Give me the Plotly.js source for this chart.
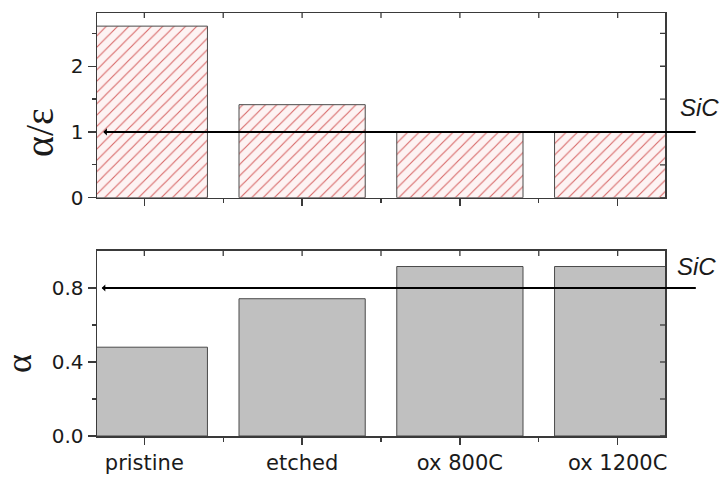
<!DOCTYPE html>
<html>
<head>
<meta charset="utf-8">
<script src="https://cdn.plot.ly/plotly-3.0.1.min.js"></script>
<style>html,body{margin:0;padding:0;background:#fff;}#chart{width:724px;height:477px;}</style>
</head>
<body>
<div id="chart"></div>
<script>
// ---- data ----
var categories = ["pristine", "etched", "ox 800C", "ox 1200C"];
var alphaOverEps = [2.61, 1.415, 1.0, 1.0];
var alpha = [0.48, 0.742, 0.916, 0.916];
var sicRef = [1.0, 0.8];          // [alpha/eps, alpha] of SiC
var sicLabel = "SiC";
var topTicks = [0, 1, 2];
var topMinor = [0.5, 1.5, 2.5];
var bottomTicks = [0.0, 0.4, 0.8];
var bottomMinor = [0.2, 0.6];

var idx = categories.map(function (c, i) { return i; });
var xr = [-0.3, 3.3];
var fontTick = "DejaVu Sans, Liberation Sans, Arial, sans-serif";
var axColor = "#3a3a3a";
var topDom = [0.5634, 1], botDom = [0, 0.4374];
var topRange = [0, 2.81];
var botRange = [0, 1.0];

var traces = [
  {
    type: "bar", x: idx, y: alphaOverEps, xaxis: "x2", yaxis: "y2", width: 0.8,
    marker: {
      color: "#ffffff",
      line: {color: "#4a4a4a", width: 1},
      pattern: {shape: "/", fgcolor: "#d86868", bgcolor: "#fdf3f3", size: 8, solidity: 0.14, fillmode: "replace"}
    },
    hoverinfo: "skip", showlegend: false
  },
  {
    type: "bar", x: idx, y: alpha, xaxis: "x", yaxis: "y", width: 0.8,
    marker: {color: "#c0c0c0", line: {color: "#4a4a4a", width: 1}},
    hoverinfo: "skip", showlegend: false
  }
];

function mainX(anchor, labels) {
  return {
    type: "linear", anchor: anchor, range: xr, domain: [0, 1],
    tickmode: "array", tickvals: idx, ticktext: categories,
    showticklabels: labels,
    ticks: "outside", ticklen: 7, tickwidth: 1.3, tickcolor: axColor,
    minor: {tickmode: "linear", tick0: 0.5, dtick: 1, ticks: "outside", ticklen: 4, tickwidth: 1.3, tickcolor: axColor},
    showline: true, linecolor: axColor, linewidth: 1.5, mirror: true,
    showgrid: false, zeroline: false, fixedrange: true,
    tickfont: {family: fontTick, size: 21, color: "#1a1a1a"}
  };
}

// inside ticks on the top and right frame edges, built from the tick arrays
var shapes = [];
var xFrameTicks = idx.concat(idx.slice(1).map(function (i) { return i - 0.5; }));
[["x", "y"], ["x2", "y2"]].forEach(function (p) {
  xFrameTicks.forEach(function (v) {
    shapes.push({type: "line", xref: p[0], yref: p[1] + " domain", ysizemode: "pixel", yanchor: 1,
                 x0: v, x1: v, y0: 0, y1: -5, line: {color: axColor, width: 1.3}});
  });
});
topTicks.concat(topMinor).forEach(function (v) {
  shapes.push({type: "line", xref: "x2 domain", yref: "y2", xsizemode: "pixel", xanchor: 1,
               x0: 0, x1: -5, y0: v, y1: v, line: {color: axColor, width: 1.3}});
});
bottomTicks.concat(bottomMinor).forEach(function (v) {
  shapes.push({type: "line", xref: "x domain", yref: "y", xsizemode: "pixel", xanchor: 1,
               x0: 0, x1: -5, y0: v, y1: v, line: {color: axColor, width: 1.3}});
});

var layout = {
  width: 724, height: 477,
  margin: {l: 97, r: 59, t: 13, b: 41, pad: 0},
  paper_bgcolor: "#ffffff", plot_bgcolor: "#ffffff",
  showlegend: false,
  barmode: "group",
  xaxis: mainX("y", true),
  xaxis2: mainX("y2", false),
  yaxis: {
    type: "linear", anchor: "x", domain: botDom, range: botRange,
    tickmode: "array", tickvals: bottomTicks, ticktext: bottomTicks.map(function (v) { return v.toFixed(1); }),
    ticks: "outside", ticklen: 8, tickwidth: 1.3, tickcolor: axColor,
    minor: {tickmode: "array", tickvals: bottomMinor, ticks: "outside", ticklen: 4, tickwidth: 1.3, tickcolor: axColor},
    showline: true, linecolor: axColor, linewidth: 1.5, mirror: true,
    showgrid: false, zeroline: false, fixedrange: true,
    tickfont: {family: fontTick, size: 20, color: "#1a1a1a"}
  },
  yaxis2: {
    type: "linear", anchor: "x2", domain: topDom, range: topRange,
    tickmode: "array", tickvals: topTicks, ticktext: topTicks.map(String),
    ticks: "outside", ticklen: 8, tickwidth: 1.3, tickcolor: axColor,
    minor: {tickmode: "array", tickvals: topMinor, ticks: "outside", ticklen: 4, tickwidth: 1.3, tickcolor: axColor},
    showline: true, linecolor: axColor, linewidth: 1.5, mirror: true,
    showgrid: false, zeroline: false, fixedrange: true,
    tickfont: {family: fontTick, size: 20, color: "#1a1a1a"}
  },
  shapes: shapes,
  annotations: [
    // y-axis titles
    {xref: "paper", yref: "paper", x: -0.1021, y: 0.7163, text: "α/ε", showarrow: false, textangle: -90,
     font: {family: "Liberation Serif, DejaVu Serif, serif", size: 40, color: "#1a1a1a"}, xanchor: "center", yanchor: "middle"},
    {xref: "paper", yref: "paper", x: -0.1373, y: 0.1702, text: "α", showarrow: false, textangle: -90,
     font: {family: "Liberation Serif, DejaVu Serif, serif", size: 36, color: "#1a1a1a"}, xanchor: "center", yanchor: "middle"},
    // SiC reference lines
    {xref: "paper", yref: "y2", x: 0.011, y: sicRef[0], ax: 594, ay: 0, axref: "pixel", ayref: "pixel",
     text: "", showarrow: true, arrowhead: 1, arrowsize: 0.6, arrowwidth: 2, arrowcolor: "#000", standoff: 0, startstandoff: 0},
    {xref: "paper", yref: "y", x: 0.0083, y: sicRef[1], ax: 595.6, ay: 0, axref: "pixel", ayref: "pixel",
     text: "", showarrow: true, arrowhead: 1, arrowsize: 0.6, arrowwidth: 2, arrowcolor: "#000", standoff: 0, startstandoff: 0},
    // SiC labels
    {xref: "paper", yref: "y2", x: 1.0616, y: sicRef[0], yshift: 24.3, text: sicLabel, showarrow: false,
     font: {family: "Liberation Sans, Arial, sans-serif", size: 24, color: "#1a1a1a", style: "italic"}, xanchor: "center", yanchor: "middle"},
    {xref: "paper", yref: "y", x: 1.0546, y: sicRef[1], yshift: 21.7, text: sicLabel, showarrow: false,
     font: {family: "Liberation Sans, Arial, sans-serif", size: 24, color: "#1a1a1a", style: "italic"}, xanchor: "center", yanchor: "middle"}
  ]
};

Plotly.newPlot("chart", traces, layout, {staticPlot: true, displayModeBar: false});
</script>
</body>
</html>
